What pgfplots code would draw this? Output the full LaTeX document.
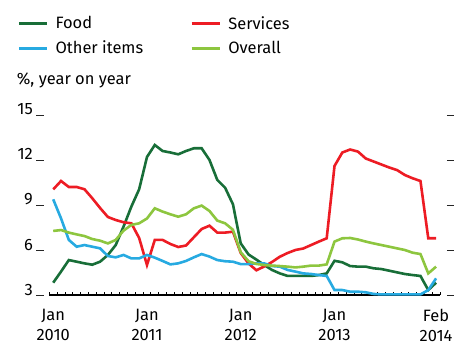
\documentclass[border=0pt]{standalone}
\usepackage{pgfplots}
\usepackage{pgfplotstable}
\pgfplotsset{compat=1.18}
\usepackage{fontspec}
\setmainfont{Fira Sans}
\definecolor{food}{RGB}{24,110,56}
\definecolor{serv}{RGB}{237,28,36}
\definecolor{other}{RGB}{39,170,225}
\definecolor{overall}{RGB}{141,198,63}

% months from Jan 2010 (0) to Feb 2014 (49)
\pgfplotstableread{
m food serv other overall
0 3.82 10.04 9.38 7.27
1 4.56 10.6 8.11 7.33
2 5.33 10.2 6.67 7.16
3 5.22 10.2 6.22 7.04
4 5.11 10.05 6.33 6.93
5 5.02 9.45 6.22 6.73
6 5.22 8.8 6.11 6.62
7 5.67 8.2 5.6 6.44
8 6.33 8.0 5.51 6.67
9 7.56 7.85 5.67 7.29
10 8.89 7.78 5.44 7.67
11 10.05 6.8 5.44 7.78
12 12.2 5.0 5.67 8.1
13 13.0 6.67 5.49 8.78
14 12.6 6.67 5.27 8.56
15 12.5 6.4 5.04 8.38
16 12.38 6.2 5.11 8.22
17 12.6 6.3 5.27 8.38
18 12.78 6.85 5.51 8.78
19 12.78 7.4 5.73 8.96
20 12.0 7.62 5.56 8.6
21 10.67 7.16 5.33 7.96
22 10.15 7.16 5.25 7.78
23 9.05 7.22 5.22 7.35
24 6.44 5.8 5.06 5.85
25 5.7 5.1 5.06 5.25
26 5.36 4.65 5.11 5.07
27 5.0 4.9 5.11 5.0
28 4.67 5.2 4.93 4.96
29 4.44 5.55 4.89 4.93
30 4.27 5.8 4.67 4.89
31 4.27 6.0 4.56 4.84
32 4.27 6.1 4.44 4.89
33 4.27 6.33 4.4 4.96
34 4.33 6.56 4.33 4.96
35 4.44 6.78 4.27 5.04
36 5.28 11.6 3.33 6.56
37 5.18 12.5 3.33 6.78
38 4.93 12.7 3.22 6.8
39 4.89 12.56 3.22 6.7
40 4.89 12.1 3.18 6.56
41 4.78 11.9 3.07 6.44
42 4.73 11.7 3.04 6.33
43 4.62 11.5 3.04 6.22
44 4.51 11.33 3.04 6.11
45 4.4 11.0 3.04 6.0
46 4.33 10.78 3.04 5.82
47 4.27 10.6 3.04 5.73
48 3.33 6.78 3.33 4.44
49 3.82 6.78 4.11 4.89
}\cpi

\begin{document}
\begin{tikzpicture}
\path[use as bounding box] (-49.3bp,-50bp) rectangle (405.7bp,295bp);
\begin{axis}[
    at={(0,0)}, anchor=south west
  , scale only axis, width=390.7bp, height=180bp
  , xmin=-0.5, xmax=49.5, ymin=3, ymax=15
  , clip=false
  , axis x line*=bottom, axis y line*=left
  , x axis line style={black, line width=2bp, -}
  , y axis line style={draw=none}
  , font=\fontsize{16.5}{20.5}\selectfont
  , /pgf/number format/assume math mode=true
  , ytick={3,6,9,12,15}
  , ytick style={draw=none}
  , yticklabel style={anchor=base east, inner sep=0pt, xshift=-16.3bp}
  , xtick={0,12,24,36,49}
  , xticklabels={Jan\\2010, Jan\\2011, Jan\\2012, Jan\\2013, Feb\\2014}
  , xticklabel style={align=center, anchor=north, inner sep=0pt, yshift=-14bp}
  , minor xtick={-0.5,0.5,...,49.5}
  , tick align=inside
  , major tick length=0pt, minor tick length=3bp
  , xtick style={black, line width=0.8bp}
  , legend columns=2
  , legend cell align=left
  , legend image code/.code={\draw[#1, line width=2.6bp] (0bp,0bp) -- (28bp,0bp);}
  , legend style={draw=none, fill=none, at={(rel axis cs:0,1)}, anchor=north west,
      xshift=-32bp, yshift=99bp, inner sep=0pt, nodes={inner sep=0pt},
      row sep=10.6bp,
      /tikz/every odd column/.append style={column sep=7.5bp},
      /tikz/every even column/.append style={column sep=47bp}}
  ]
\addplot[food, line width=2.6bp] table[x=m, y=food] {\cpi};
\addlegendentry{Food}
\addplot[serv, line width=2.6bp] table[x=m, y=serv] {\cpi};
\addlegendentry{Services}
\addplot[other, line width=2.6bp] table[x=m, y=other] {\cpi};
\addlegendentry{Other items}
\addplot[overall, line width=2.6bp] table[x=m, y=overall] {\cpi};
\addlegendentry{Overall}
\pgfplotsinvokeforeach{3,6,9,12,15}{
  \draw[black!85, line width=0.9bp] (axis cs:-0.5,#1) ++(-13bp,0bp) -- ++(8bp,0bp);
  \draw[black!85, line width=0.9bp] (axis cs:49.5,#1) ++(7bp,0bp) -- ++(7bp,0bp);
}
\node[anchor=base west, inner sep=0pt, xshift=-32.6bp, yshift=30bp] at (rel axis cs:0,1) {\%, year on year};
\end{axis}
\end{tikzpicture}
\end{document}
